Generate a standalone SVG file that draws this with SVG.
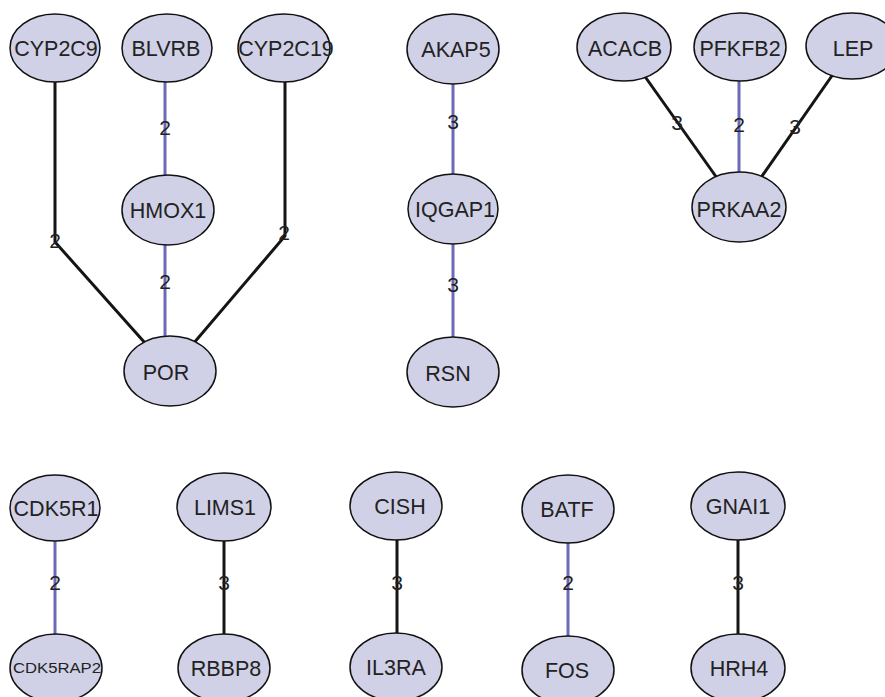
<svg xmlns="http://www.w3.org/2000/svg" width="885" height="697" viewBox="0 0 885 697">
  <style>
    .bg { fill: #ffffff; }
    .node ellipse { fill: #d0d0e6; stroke: #111111; stroke-width: 1.5; }
    .node text { font-family: "Liberation Sans", Arial, sans-serif; font-size: 21.5px; fill: #222222; text-anchor: middle; }
    .edge { fill: none; stroke-width: 3; stroke-linejoin: miter; }
    .e-black { stroke: #151515; }
    .e-blue { stroke: #6a6ab8; }
    .elabel { font-family: "Liberation Sans", Arial, sans-serif; font-size: 21px; fill: #222222; text-anchor: middle; }
  </style>
  <rect class="bg" x="0" y="0" width="885" height="697"/>

  <!-- connectors -->
  <g id="edges">
    <polyline class="edge e-black" points="55,48 55,242 170,371"/>
    <line class="edge e-blue" x1="165" y1="48" x2="165" y2="209"/>
    <line class="edge e-blue" x1="165" y1="209" x2="165" y2="371"/>
    <polyline class="edge e-black" points="285,48 285,236 170,371"/>
    <line class="edge e-blue" x1="453" y1="48" x2="453" y2="209"/>
    <line class="edge e-blue" x1="453" y1="209" x2="453" y2="372"/>
    <line class="edge e-black" x1="624" y1="47" x2="739" y2="209"/>
    <line class="edge e-blue" x1="739" y1="47" x2="739" y2="209"/>
    <line class="edge e-black" x1="852" y1="47" x2="739" y2="209"/>
    <line class="edge e-blue" x1="55" y1="508" x2="55" y2="668"/>
    <line class="edge e-black" x1="224" y1="508" x2="224" y2="668"/>
    <line class="edge e-black" x1="397" y1="506" x2="397" y2="668"/>
    <line class="edge e-blue" x1="568" y1="508" x2="568" y2="668"/>
    <line class="edge e-black" x1="738" y1="506" x2="738" y2="668"/>

    <text class="elabel" x="55" y="248">2</text>
    <text class="elabel" x="165" y="135">2</text>
    <text class="elabel" x="165" y="289">2</text>
    <text class="elabel" x="284" y="240">2</text>
    <text class="elabel" x="453" y="129">3</text>
    <text class="elabel" x="453" y="292">3</text>
    <text class="elabel" x="677" y="130">3</text>
    <text class="elabel" x="739" y="132">2</text>
    <text class="elabel" x="795" y="134">3</text>
    <text class="elabel" x="55" y="590">2</text>
    <text class="elabel" x="224" y="590">3</text>
    <text class="elabel" x="397" y="590">3</text>
    <text class="elabel" x="568" y="590">2</text>
    <text class="elabel" x="738" y="590">3</text>
  </g>

  <!-- nodes -->
  <g id="CYP2C9" class="node"><ellipse cx="55" cy="48" rx="45" ry="34"/><text x="56" y="56">CYP2C9</text></g>
  <g id="BLVRB" class="node"><ellipse cx="167" cy="48" rx="45" ry="34"/><text x="166" y="56">BLVRB</text></g>
  <g id="CYP2C19" class="node"><ellipse cx="284" cy="48" rx="46" ry="34"/><text x="286" y="56">CYP2C19</text></g>
  <g id="HMOX1" class="node"><ellipse cx="168" cy="210" rx="46" ry="35"/><text x="168" y="218">HMOX1</text></g>
  <g id="POR" class="node"><ellipse cx="170" cy="371" rx="46" ry="35"/><text x="166" y="380">POR</text></g>
  <g id="AKAP5" class="node"><ellipse cx="453" cy="49" rx="46" ry="35"/><text x="456" y="57">AKAP5</text></g>
  <g id="IQGAP1" class="node"><ellipse cx="453" cy="209" rx="45" ry="35"/><text x="455" y="217">IQGAP1</text></g>
  <g id="RSN" class="node"><ellipse cx="453" cy="372" rx="46" ry="35"/><text x="448" y="381">RSN</text></g>
  <g id="ACACB" class="node"><ellipse cx="624" cy="47" rx="47" ry="34"/><text x="625" y="56">ACACB</text></g>
  <g id="PFKFB2" class="node"><ellipse cx="740" cy="47" rx="46" ry="34"/><text x="740" y="56">PFKFB2</text></g>
  <g id="LEP" class="node"><ellipse cx="852" cy="46" rx="46" ry="33"/><text x="853" y="56">LEP</text></g>
  <g id="PRKAA2" class="node"><ellipse cx="739" cy="207" rx="47" ry="35"/><text x="739" y="217">PRKAA2</text></g>

  <g id="CDK5R1" class="node"><ellipse cx="55" cy="508" rx="45" ry="33"/><text x="56" y="516">CDK5R1</text></g>
  <g id="CDK5RAP2" class="node"><ellipse cx="56" cy="668" rx="46" ry="34"/><text x="57" y="673" style="font-size:15px" textLength="88" lengthAdjust="spacingAndGlyphs">CDK5RAP2</text></g>
  <g id="LIMS1" class="node"><ellipse cx="224" cy="507" rx="47" ry="34"/><text x="225" y="515">LIMS1</text></g>
  <g id="RBBP8" class="node"><ellipse cx="224" cy="668" rx="46" ry="34"/><text x="226" y="676">RBBP8</text></g>
  <g id="CISH" class="node"><ellipse cx="396" cy="506" rx="46" ry="34"/><text x="400" y="514">CISH</text></g>
  <g id="IL3RA" class="node"><ellipse cx="396" cy="667" rx="46" ry="34"/><text x="396" y="675">IL3RA</text></g>
  <g id="BATF" class="node"><ellipse cx="568" cy="509" rx="46" ry="34"/><text x="567" y="517">BATF</text></g>
  <g id="FOS" class="node"><ellipse cx="568" cy="670" rx="46" ry="34"/><text x="567" y="678">FOS</text></g>
  <g id="GNAI1" class="node"><ellipse cx="738" cy="506" rx="47" ry="34"/><text x="738" y="514">GNAI1</text></g>
  <g id="HRH4" class="node"><ellipse cx="738" cy="668" rx="47" ry="34"/><text x="739" y="676">HRH4</text></g>
</svg>
